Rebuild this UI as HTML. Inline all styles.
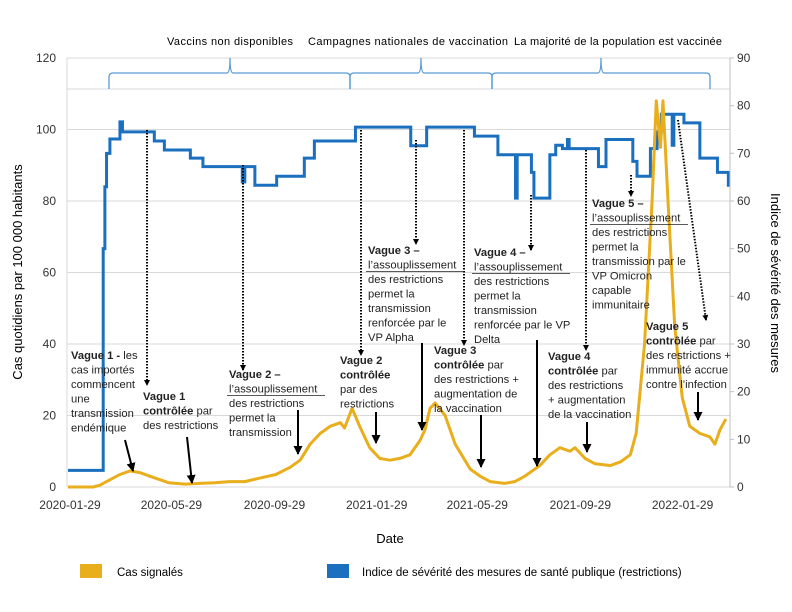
<!DOCTYPE html>
<html><head><meta charset="utf-8"><style>
body{margin:0;background:#fff;}
svg{display:block;font-family:"Liberation Sans",sans-serif;}
.ann{font-size:11.2px;fill:#222;}
.b{font-weight:bold;}
</style></head><body>
<svg id="chart" width="792" height="612" viewBox="0 0 792 612">
<g id="grid"></g>
<g id="braces"></g>
<g id="series"></g>
<g id="axes"></g>
<g id="anns"></g>
<text x="390" y="543" font-size="13" text-anchor="middle">Date</text>
<text transform="translate(22,272) rotate(-90)" font-size="13" text-anchor="middle">Cas quotidiens par 100 000 habitants</text>
<text transform="translate(771,283) rotate(90)" font-size="13" text-anchor="middle">Indice de sévérité des mesures</text>
<text x="230" y="45" font-size="11" text-anchor="middle" textLength="126">Vaccins non disponibles</text>
<text x="408" y="45" font-size="11" text-anchor="middle" textLength="200">Campagnes nationales de vaccination</text>
<text x="618" y="45" font-size="11" text-anchor="middle" textLength="208">La majorité de la population est vaccinée</text>
<g>
<rect x="80" y="564" width="22" height="14" fill="#E8AE1C"/>
<text x="117" y="576" font-size="11.5">Cas signalés</text>
<rect x="327" y="564" width="22" height="14" fill="#1A6FBF"/>
<text x="362" y="576" font-size="11.5">Indice de sévérité des mesures de santé publique (restrictions)</text>
</g>
</svg>
<script>
// Days since 2020-01-29
const caseDays = [0,30,38,50,62,74,86,98,120,140,157,175,193,211,229,248,265,277,289,301,313,325,330,339,348,360,372,384,396,408,420,426,432,438,450,462,480,492,504,521,533,545,563,575,587,599,605,617,629,647,659,671,678,688,697,702,707,710,716,724,733,742,754,766,772,778,785];
const caseVals = [0,0,0.5,2,3.5,4.5,4,3,1.2,0.8,1,1.2,1.5,1.5,2.5,3.5,5.5,7.5,12,15,17,18,16.5,22,17,11,8,7.5,8,9,13,16,22,23.5,20,12,5,3,1.5,1,1.5,3,6,9,11,10,11,8,6.5,6,7,9,15,40,80,108,95,108,80,45,25,17,15,14,12,16,19];
const sevDays = [0,42,44,46,50,60,62,65,103,115,146,161,208,211,223,249,282,294,343,409,428,485,513,534,536,553,556,575,582,590,596,598,633,642,674,679,695,703,708,721,723,735,754,775,788];
const sevVals = [3.5,50,63,70,73,73,76.6,74.5,72.6,70.7,69,67.2,64,67.2,63.3,65.2,69,72.6,75.5,71.6,75.5,73.6,69.7,60.6,69.7,66,60.6,69.7,71.7,71,72.9,71,67.2,72.9,68.3,65.2,71,74.5,78.2,71.7,78.2,76.4,69,66,63.3];
const leftTicks = [0,20,40,60,80,100,120];
const rightTicks = [0,10,20,30,40,50,60,70,80,90];
const xTickDays = [0,121,244,366,486,609,731];
const xTickLabels = ["2020-01-29","2020-05-29","2020-09-29","2021-01-29","2021-05-29","2021-09-29","2022-01-29"];
const sevEndDay = 790;

const X0=68, PXD=0.838, Y0=487, YT=58, XR=730;
const xs = d => X0 + d*PXD;
const yL = v => Y0 - v*(Y0-YT)/120;
const yR = v => Y0 - v*(Y0-YT)/90;
const NS="http://www.w3.org/2000/svg";
function mk(tag, attrs, parent){const e=document.createElementNS(NS,tag);for(const k in attrs)e.setAttribute(k,attrs[k]);parent.appendChild(e);return e;}
const grid=document.getElementById('grid'), axes=document.getElementById('axes'), series=document.getElementById('series'), anns=document.getElementById('anns'), braces=document.getElementById('braces');

leftTicks.forEach((t,i)=>{
  const l=mk('line',{x1:67,x2:XR,y1:yL(t),y2:yL(t),stroke:'#d9d9d9','stroke-width':1},grid);
  
  
  const tx=mk('text',{x:56,y:yL(t)+4,'font-size':12,'text-anchor':'end',fill:'#333'},axes);
  tx.textContent=t;
  
  
});
const bl=mk('line',{x1:67,x2:XR,y1:89,y2:89,stroke:'#d9d9d9','stroke-width':1},grid);


const la=mk('line',{x1:67,x2:67,y1:YT,y2:Y0,stroke:'#d9d9d9','stroke-width':1},axes);


const ra=mk('line',{x1:XR,x2:XR,y1:YT,y2:Y0,stroke:'#bfbfbf','stroke-width':1},axes);


rightTicks.forEach(t=>{
  const tk=mk('line',{x1:XR,x2:XR+4,y1:yR(t),y2:yR(t),stroke:'#bfbfbf'},axes);
  
  
  const tx=mk('text',{x:737,y:yR(t)+4,'font-size':12,fill:'#333'},axes);
  tx.textContent=t;
  
  
});
xTickDays.forEach((d,i)=>{
  const tx=mk('text',{x:xs(d)+2,y:509,'font-size':12,'text-anchor':'middle',fill:'#333'},axes);
  tx.textContent=xTickLabels[i];
  
  
});

// braces
[[109,230,350],[350,421,492],[492,601,710]].forEach(b=>{
  const [a,m,c]=b;
  const p=mk('path',{d:`M${a},89 L${a},77 Q${a},73 ${a+4},73 L${m-3},73 Q${m},73 ${m},58 Q${m},73 ${m+3},73 L${c-4},73 Q${c},73 ${c},77 L${c},89`,fill:'none',stroke:'#5B9BD5','stroke-width':1.3},braces);
  
  
});

// severity step line
let d='';
for(let i=0;i<sevDays.length;i++){
  const x=xs(sevDays[i]), y=yR(sevVals[i]);
  if(i===0) d+=`M${x},${y}`; else d+=` L${x},${yR(sevVals[i-1])} L${x},${y}`;
}
d+=` L${xs(sevEndDay)},${yR(sevVals[sevVals.length-1])}`;
const sp=mk('path',{d:d,fill:'none',stroke:'#1A6FBF','stroke-width':3,'stroke-linejoin':'miter'},series);



// cases line
let c='';
caseDays.forEach((dd,i)=>{c+=(i?' L':'M')+xs(dd)+','+yL(caseVals[i]);});
const cp=mk('path',{d:c,fill:'none',stroke:'#E8AE1C','stroke-width':3,'stroke-linejoin':'round'},series);



// arrows
const defs=mk('defs',{},document.getElementById('chart'));
const mkr=mk('marker',{id:'ah',markerWidth:6,markerHeight:6,refX:5,refY:3,orient:'auto',markerUnits:'userSpaceOnUse'},defs);
mkr.setAttribute('viewBox','0 0 6 6');
mk('path',{d:'M0,0 L6,3 L0,6 z',fill:'#000'},mkr);
const mkr2=mk('marker',{id:'ah2',markerWidth:9,markerHeight:9,refX:8,refY:4.5,orient:'auto',markerUnits:'userSpaceOnUse'},defs);
mkr2.setAttribute('viewBox','0 0 9 9');
mk('path',{d:'M0,0 L9,4.5 L0,9 z',fill:'#000'},mkr2);
function arrow(x1,y1,x2,y2,dotted,name){
  const a=mk('line',{x1,y1,x2,y2,stroke:'#000','stroke-width':2,'marker-end':dotted?'url(#ah)':'url(#ah2)'},anns);
  if(dotted)a.setAttribute('stroke-dasharray','1.5,1.5');
  
  
}
arrow(147,130,147,385,true,'arrow-wave1-controlled-dotted');
arrow(243,165,243,370,true,'arrow-wave2-easing-dotted');
arrow(361,130,361,355,true,'arrow-wave2-controlled-dotted');
arrow(416,140,416,244,true,'arrow-wave3-easing-dotted');
arrow(464,130,464,345,true,'arrow-wave3-controlled-dotted');
arrow(531,195,531,250,true,'arrow-wave4-easing-dotted');
arrow(586,150,586,350,true,'arrow-wave4-controlled-dotted');
arrow(631,175,631,196,true,'arrow-wave5-easing-dotted');
arrow(678,120,706,320,true,'arrow-wave5-controlled-dotted');
arrow(125,440,133,471,false,'arrow-wave1-start');
arrow(187,437,192,483,false,'arrow-wave1-controlled');
arrow(298,410,298,454,false,'arrow-wave2-easing');
arrow(376,412,376,443,false,'arrow-wave2-controlled');
arrow(422,343,422,430,false,'arrow-wave3-easing');
arrow(481,415,481,467,false,'arrow-wave3-controlled');
arrow(537,340,537,466,false,'arrow-wave4-easing');
arrow(587,422,587,452,false,'arrow-wave4-controlled');
arrow(698,392,698,420,false,'arrow-wave5-controlled');

function block(x,y,lines,name,ulW){
  const t=mk('text',{x:x,y:y,class:'ann'},anns);
  
  
  lines.forEach((ln,i)=>{
    const ts=mk('tspan',{x:x,y:y+i*14.5},t);
    ln.forEach(seg=>{const s=mk('tspan',seg[1]?{class:'b'}:{},ts);s.textContent=seg[0];});
  });
  if(ulW){const u=mk('line',{x1:x-2,x2:x+ulW,y1:y+17.5,y2:y+17.5,stroke:'#222','stroke-width':0.8},anns);
    
    }
}
block(71,359,[[["Vague 1 - ",1],["les",0]],[["cas importés",0]],[["commencent",0]],[["une",0]],[["transmission",0]],[["endémique",0]]],'annotation-wave1-start');
block(143,400,[[["Vague 1",1]],[["contrôlée",1],[" par",0]],[["des restrictions",0]]],'annotation-wave1-controlled');
block(229,378,[[["Vague 2 –",1]],[["l’assouplissement",0]],[["des restrictions",0]],[["permet la",0]],[["transmission",0]]],'annotation-wave2-easing',96);
block(340,364,[[["Vague 2",1]],[["contrôlée",1]],[["par des",0]],[["restrictions",0]]],'annotation-wave2-controlled');
block(368,254,[[["Vague 3 –",1]],[["l’assouplissement",0]],[["des restrictions",0]],[["permet la",0]],[["transmission",0]],[["renforcée par le",0]],[["VP Alpha",0]]],'annotation-wave3-easing',96);
block(434,354,[[["Vague 3",1]],[["contrôlée",1],[" par",0]],[["des restrictions +",0]],[["augmentation de",0]],[["la vaccination",0]]],'annotation-wave3-controlled');
block(474,256,[[["Vague 4 –",1]],[["l’assouplissement",0]],[["des restrictions",0]],[["permet la",0]],[["transmission",0]],[["renforcée par le VP",0]],[["Delta",0]]],'annotation-wave4-easing',96);
block(548,360,[[["Vague 4",1]],[["contrôlée",1],[" par",0]],[["des restrictions",0]],[["+ augmentation",0]],[["de la vaccination",0]]],'annotation-wave4-controlled');
block(592,207,[[["Vague 5 –",1]],[["l’assouplissement",0]],[["des restrictions",0]],[["permet la",0]],[["transmission par le",0]],[["VP Omicron",0]],[["capable",0]],[["immunitaire",0]]],'annotation-wave5-easing',96);
block(646,330,[[["Vague 5",1]],[["contrôlée",1],[" par",0]],[["des restrictions +",0]],[["immunité accrue",0]],[["contre l’infection",0]]],'annotation-wave5-controlled');
</script>
</body></html>
